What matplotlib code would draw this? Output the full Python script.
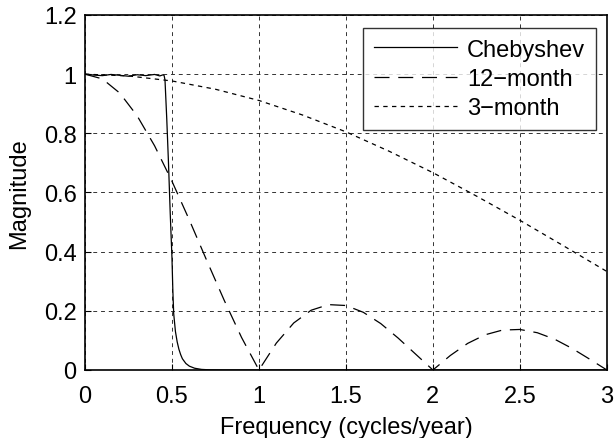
import matplotlib
matplotlib.use("Agg")
import matplotlib.pyplot as plt

plt.rcParams['font.family'] = ['Liberation Sans', 'DejaVu Sans']

# Chebyshev low-pass response
cheb_f = [0.0, 0.05, 0.1, 0.15, 0.2, 0.25, 0.3, 0.35, 0.4, 0.43, 0.45, 0.455,
          0.46, 0.47, 0.48, 0.49, 0.5, 0.505, 0.51, 0.52, 0.53, 0.54, 0.55,
          0.56, 0.58, 0.6, 0.63, 0.67, 0.72, 0.8, 3.0]
cheb_m = [1.0, 0.997, 0.995, 0.999, 0.996, 0.993, 0.998, 0.995, 0.999, 0.994,
          0.998, 0.995, 0.98, 0.85, 0.70, 0.53, 0.38, 0.27, 0.19, 0.13, 0.095,
          0.07, 0.052, 0.038, 0.022, 0.013, 0.006, 0.002, 0.0005, 0.0, 0.0]

# 12-month moving average
ma12_f = [0.0, 0.1, 0.2, 0.3, 0.4, 0.5, 0.6, 0.7, 0.8, 0.9, 1.0,
          1.1, 1.2, 1.3, 1.4, 1.5, 1.6, 1.7, 1.8, 1.9, 2.0,
          2.1, 2.2, 2.3, 2.4, 2.5, 2.6, 2.7, 2.8, 2.9, 3.0]
ma12_m = [1.0, 0.984, 0.936, 0.859, 0.758, 0.638, 0.507, 0.370, 0.236, 0.110, 0.0,
          0.091, 0.159, 0.202, 0.221, 0.218, 0.195, 0.157, 0.108, 0.054, 0.0,
          0.049, 0.090, 0.119, 0.135, 0.137, 0.126, 0.104, 0.073, 0.037, 0.0]

# 3-month moving average
ma3_f = [0.0, 0.25, 0.5, 0.75, 1.0, 1.25, 1.5, 1.75, 2.0, 2.25, 2.5, 2.75, 3.0]
ma3_m = [1.0, 0.994, 0.977, 0.949, 0.911, 0.862, 0.805, 0.739, 0.667, 0.588,
         0.506, 0.420, 0.333]

fig = plt.figure(figsize=(6.14, 4.39), dpi=100)
ax = fig.add_axes([0.1384, 0.1549, 0.850, 0.8087])

ax.plot(cheb_f, cheb_m, color='black', lw=0.9, label='Chebyshev')
ax.plot(ma12_f, ma12_m, color='black', lw=0.9, dashes=(12, 7), label='12\u2212month')
ax.plot(ma3_f, ma3_m, color='black', lw=0.9, dashes=(3.5, 3.5), label='3\u2212month')

ax.set_xlim(0, 3)
ax.set_ylim(0, 1.2)
ax.set_xticks([0, 0.5, 1, 1.5, 2, 2.5, 3])
ax.set_xticklabels(['0', '0.5', '1', '1.5', '2', '2.5', '3'])
ax.set_yticks([0, 0.2, 0.4, 0.6, 0.8, 1.0, 1.2])
ax.set_yticklabels(['0', '0.2', '0.4', '0.6', '0.8', '1', '1.2'])
ax.grid(True, color='#333333', lw=0.7, dashes=(4, 4))
ax.tick_params(direction='in', length=4, labelsize=17)
ax.tick_params(axis='x', pad=11)
ax.tick_params(axis='y', pad=6)
for s in ax.spines.values():
    s.set_linewidth(1.2)

ax.set_xlabel('Frequency (cycles/year)', fontsize=17, labelpad=6)
ax.set_ylabel('Magnitude', fontsize=17, labelpad=10)

leg = ax.legend(loc='upper right', bbox_to_anchor=(0.979, 0.963), borderaxespad=0,
                fontsize=17, frameon=True, fancybox=False, edgecolor='black',
                handlelength=3.5, labelspacing=0.3, handletextpad=0.45,
                borderpad=0.45)
leg.get_frame().set_linewidth(1.0)

fig.savefig('out.png', dpi=100)
